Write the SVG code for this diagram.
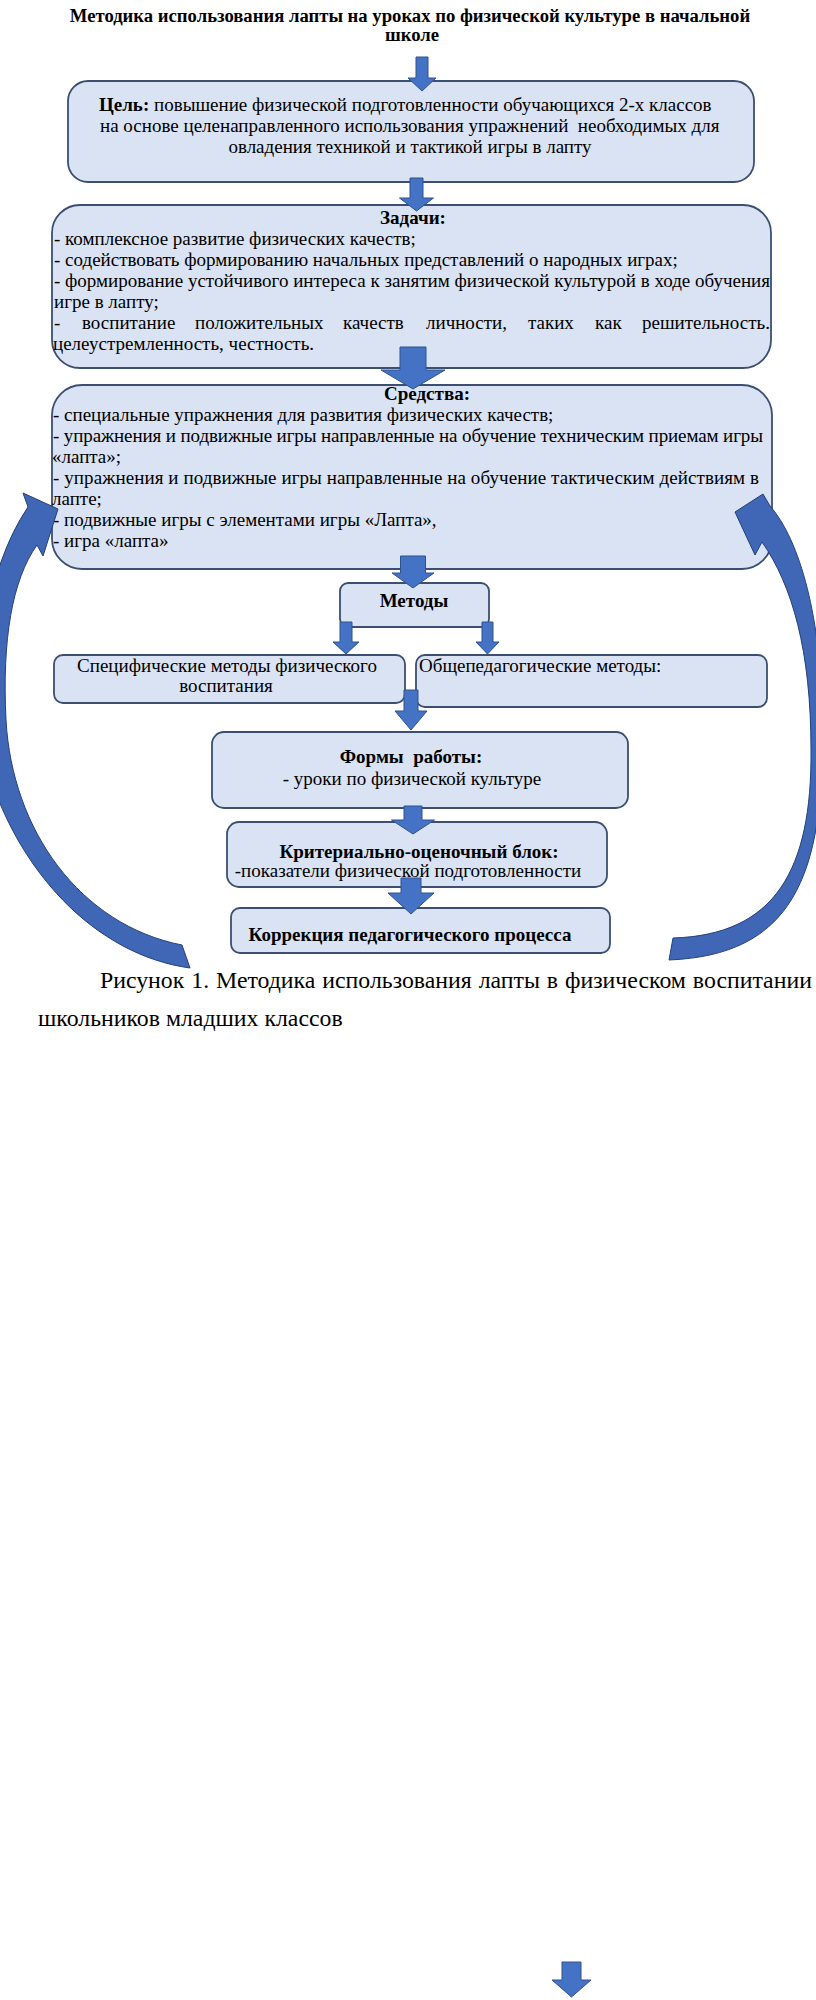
<svg xmlns="http://www.w3.org/2000/svg" width="816" height="2000" viewBox="0 0 816 2000">
<style>
.box{fill:#DAE3F3;stroke:#3C4F70;stroke-width:1.8}
.arr{fill:#4472C4;stroke:#2F528F;stroke-width:1}
.crv{fill:#3F67B5;stroke:#23407A;stroke-width:1}
text{font-family:"Liberation Serif","Times New Roman",serif;font-size:19px;fill:#000}
.t{font-size:18.67px}
.b{font-weight:bold}
.cap{font-size:23.8px}
</style>
<rect width="816" height="2000" fill="#FFFFFF"/>
<g id="title">
<text class="b t" x="410" y="22" text-anchor="middle">Методика использования лапты на уроках по физической культуре в начальной</text>
<text class="b t" x="412" y="41" text-anchor="middle">школе</text>
</g>
<g id="goal">
<rect class="box" x="68" y="81" width="686" height="101" rx="20"/>
<text x="99" y="111"><tspan class="b">Цель:</tspan> повышение физической подготовленности обучающихся 2-х классов</text>
<text x="100" y="132" xml:space="preserve">на основе целенаправленного использования упражнений  необходимых для</text>
<text x="410" y="153" text-anchor="middle">овладения техникой и тактикой игры в лапту</text>
</g>
<g id="tasks">
<rect class="box" x="52" y="205" width="719" height="163" rx="28"/>
<text class="b" x="413" y="223.5" text-anchor="middle">Задачи:</text>
<text x="54" y="245">- комплексное развитие физических качеств;</text>
<text x="54" y="266">- содействовать формированию начальных представлений о народных играх;</text>
<text x="54" y="287" textLength="716" lengthAdjust="spacing">- формирование устойчивого интереса к занятим физической культурой в ходе обучения</text>
<text x="54" y="308">игре в лапту;</text>
<text y="329"><tspan x="54">-</tspan><tspan x="82">воспитание</tspan><tspan x="195">положительных</tspan><tspan x="343">качеств</tspan><tspan x="426">личности,</tspan><tspan x="528">таких</tspan><tspan x="595">как</tspan><tspan x="642">решительность.</tspan></text>
<text x="53" y="350">целеустремленность, честность.</text>
</g>
<g id="means">
<rect class="box" x="52" y="385" width="720" height="184" rx="30"/>
<text class="b" x="427" y="399.5" text-anchor="middle">Средства:</text>
<text x="53" y="421">- специальные упражнения для развития физических качеств;</text>
<text x="53" y="442" textLength="710" lengthAdjust="spacing">- упражнения и подвижные игры направленные на обучение техническим приемам игры</text>
<text x="52" y="463">«лапта»;</text>
<text x="53" y="484" textLength="706" lengthAdjust="spacing">- упражнения и подвижные игры направленные на обучение тактическим действиям в</text>
<text x="52" y="505">лапте;</text>
<text x="53" y="526">- подвижные игры с элементами игры «Лапта»,</text>
<text x="53" y="547">- игра «лапта»</text>
</g>
<g id="methods">
<rect class="box" x="340" y="583" width="149" height="44" rx="8"/>
<text class="b" x="414" y="607" text-anchor="middle">Методы</text>
</g>
<g id="specific">
<rect class="box" x="54" y="655" width="351" height="48" rx="9"/>
<text x="227" y="672" text-anchor="middle">Специфические методы физического</text>
<text x="226" y="692" text-anchor="middle">воспитания</text>
</g>
<g id="general">
<rect class="box" x="416" y="655" width="351" height="52" rx="9"/>
<text x="419" y="672">Общепедагогические методы:</text>
</g>
<g id="forms">
<rect class="box" x="212" y="732" width="416" height="76" rx="12"/>
<text class="b" x="411" y="763" text-anchor="middle" xml:space="preserve">Формы  работы:</text>
<text x="412" y="785" text-anchor="middle">- уроки по физической культуре</text>
</g>
<g id="criteria">
<rect class="box" x="227" y="822" width="380" height="65" rx="12"/>
<text class="b" x="419" y="858" text-anchor="middle">Критериально-оценочный блок:</text>
<text x="408" y="877" text-anchor="middle">-показатели физической подготовленности</text>
</g>
<g id="correction">
<rect class="box" x="231" y="908" width="379" height="45" rx="9"/>
<text class="b" x="410" y="941" text-anchor="middle">Коррекция педагогического процесса</text>
</g>
<g id="connectors">
<polygon class="arr" points="416,57 428,57 428,78 436,78 422,91 408,78 416,78"/>
<polygon class="arr" points="410,178 423,178 423,198 433.5,198 416.5,211 399.5,198 410,198"/>
<polygon class="arr" points="400,347 426,347 426,370 445,370 413,389 381,370 400,370"/>
<polygon class="arr" points="400.5,556 425.5,556 425.5,573 434,573 413,588 392,573 400.5,573"/>
<polygon class="arr" points="340,622 352,622 352,642 359,642 346,654 333,642 340,642"/>
<polygon class="arr" points="482,622 493,622 493,642 499,642 487.5,654 476,642 482,642"/>
<polygon class="arr" points="404,690 418,690 418,711 427,711 411,730 395,711 404,711"/>
<polygon class="arr" points="404,806 422,806 422,820 434.5,820 413,834 391.5,820 404,820"/>
<polygon class="arr" points="401,878 421,878 421,893 434,893 411,914 388,893 401,893"/>
<polygon class="arr" points="562,1962 581,1962 581,1980 591,1980 571.5,1997 552,1980 562,1980"/>
<path class="crv" d="M 58 509 L 23 493 L 28 507 C -15 570 -30 680 -15 760 C 15 870 95 955 190 968 L 182 945 C 80 925 12 830 6 720 C 2 640 12 580 37 545 L 43 556 Z"/>
<path class="crv" d="M 735 512 L 763 494 L 770 506 C 800 540 822 620 822 720 C 826 880 790 955 669 960 L 673 938 C 775 935 812 870 811 750 C 811 650 792 585 762 542 L 755 555 Z"/>
</g>
<g id="caption">
<text class="cap" x="100" y="988" word-spacing="1">Рисунок 1. Методика использования лапты в физическом воспитании</text>
<text class="cap" x="38" y="1026">школьников младших классов</text>
</g>
</svg>
